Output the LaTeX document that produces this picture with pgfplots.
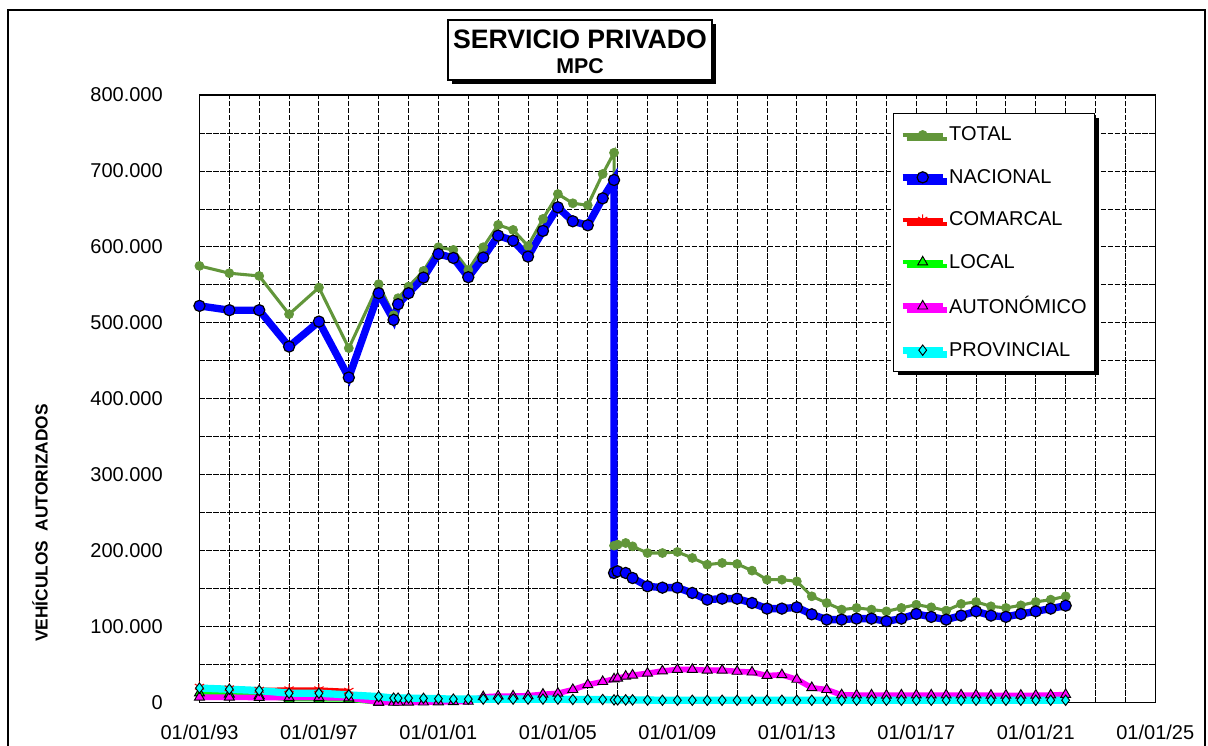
\documentclass[border=0pt]{standalone}
\usepackage{fontspec}
\setmainfont{Liberation Sans}
\usepackage{pgfplots}
\usepackage{pgfplotstable}
\pgfplotsset{compat=1.18}
\usetikzlibrary{shadows}
\definecolor{totalc}{RGB}{98,150,58}
\definecolor{pblue}{RGB}{0,0,255}
\definecolor{pred}{RGB}{255,0,0}
\definecolor{pgreen}{RGB}{0,255,0}
\definecolor{pmag}{RGB}{255,0,255}
\definecolor{pcyan}{RGB}{0,255,255}

\pgfplotstableread{
x y
1993 575000
1994 565400
1995 561800
1996 511400
1997 546500
1998 466700
1999 550900
1999.5 510000
1999.65 532500
2000 547800
2000.5 568400
2001 599600
2001.5 596100
2002 569700
2002.5 599600
2003 629000
2003.5 622400
2004 601300
2004.5 636900
2005 669700
2005.5 657500
2006 654900
2006.5 696100
2006.88 724100
2006.88 206600
2007 208000
2007.27 210100
2007.5 205700
2008 196900
2008.5 196900
2009 198300
2009.5 190400
2010 181600
2010.5 183800
2011 182500
2011.5 173700
2012 161800
2012.5 161800
2013 159600
2013.5 139900
2014 131100
2014.5 122400
2015 124600
2015.5 122400
2016 120100
2016.5 124600
2017 128900
2017.5 125400
2018 121100
2018.5 129900
2019 132500
2019.5 126700
2020 124600
2020.5 128000
2021 132500
2021.5 135500
2022 139900
}\total

\pgfplotstableread{
x y
1993 522400
1994 516700
1995 516700
1996 468800
1997 501700
1998 428000
1999 539100
1999.5 503900
1999.65 524600
2000 539100
2000.5 559600
2001 590800
2001.5 585500
2002 560100
2002.5 586000
2003 614900
2003.5 608300
2004 587300
2004.5 621100
2005 652200
2005.5 633800
2006 628500
2006.5 664000
2006.88 688200
2006.88 170600
2007 172800
2007.27 170600
2007.5 164000
2008 153100
2008.5 151300
2009 151300
2009.5 144300
2010 135500
2010.5 136800
2011 136800
2011.5 131100
2012 123700
2012.5 123700
2013 125400
2013.5 116200
2014 109200
2014.5 109200
2015 110500
2015.5 110500
2016 107000
2016.5 110500
2017 116700
2017.5 112800
2018 109200
2018.5 114500
2019 120100
2019.5 114500
2020 112800
2020.5 116700
2021 120100
2021.5 123700
2022 127600
}\nacional

\pgfplotstableread{
x y
1993 20800
1994 18700
1995 16800
1996 17400
1997 17400
1998 15500
}\comarcal

\pgfplotstableread{
x y
1993 12500
1994 11000
1995 9000
1996 4500
1997 4500
1998 4000
1999 0
}\local

\pgfplotstableread{
x y
1993 7000
1994 7000
1995 6500
1996 6500
1997 6500
1998 6000
1999 500
1999.5 200
1999.65 200
2000 300
2000.5 500
2001 800
2001.5 1000
2002 1500
2002.5 7500
2003 8500
2003.5 8500
2004 9000
2004.5 10800
2005 12100
2005.5 17000
2006 23500
2006.5 27500
2006.88 31000
2007 32000
2007.27 34500
2007.5 36000
2008 38500
2008.5 41500
2009 43500
2009.5 43500
2010 42500
2010.5 42500
2011 41000
2011.5 40000
2012 35500
2012.5 36500
2013 30500
2013.5 19500
2014 17000
2014.5 10000
2015 9800
2015.5 9800
2016 9500
2016.5 9800
2017 9800
2017.5 9800
2018 9800
2018.5 9800
2019 9800
2019.5 9500
2020 9500
2020.5 9500
2021 9500
2021.5 9800
2022 10500
}\autonomico

\pgfplotstableread{
x y
1993 19000
1994 17500
1995 15800
1996 12300
1997 12300
1998 10000
1999 7800
1999.5 5800
1999.65 5800
2000 5800
2000.5 5500
2001 5000
2001.5 4500
2002 4500
2002.5 4500
2003 4500
2003.5 4500
2004 4500
2004.5 4500
2005 4500
2005.5 4000
2006 4000
2006.5 4000
2006.88 3500
2007 3500
2007.27 3500
2007.5 3500
2008 3200
2008.5 3000
2009 3000
2009.5 3000
2010 3000
2010.5 3000
2011 3000
2011.5 3000
2012 3000
2012.5 3000
2013 3000
2013.5 3000
2014 3000
2014.5 3000
2015 3000
2015.5 3000
2016 3000
2016.5 3000
2017 3000
2017.5 3000
2018 3000
2018.5 3000
2019 3000
2019.5 3000
2020 3000
2020.5 3000
2021 3000
2021.5 3000
2022 3000
}\provincial

\begin{document}
\begin{tikzpicture}
% outer frame
\draw[line width=1.1pt] (-143.6pt,-60pt) rectangle (754.1pt,519.4pt);
\begin{axis}[
  at={(0pt,0pt)}, anchor=south west,
  scale only axis, width=716.85pt, height=455.6pt,
  xmin=1993, xmax=2025, ymin=0, ymax=800000,
  xtick={1993,1997,2001,2005,2009,2013,2017,2021,2025},
  xticklabels={01/01/93,01/01/97,01/01/01,01/01/05,01/01/09,01/01/13,01/01/17,01/01/21,01/01/25},
  minor x tick num=3,
  ytick={0,100000,200000,300000,400000,500000,600000,700000,800000},
  yticklabels={0,100.000,200.000,300.000,400.000,500.000,600.000,700.000,800.000},
  minor y tick num=1,
  scaled y ticks=false,
  grid=both,
  major grid style={black, line width=0.7pt, dash pattern=on 4pt off 1.2pt},
  minor grid style={black, line width=0.7pt, dash pattern=on 4pt off 1.2pt},
  tick style={draw=none},
  axis line style={black, line width=0.9pt},
  tick label style={font=\fontsize{15}{18}\selectfont},
  yticklabel style={xshift=-24pt},
  xticklabel style={yshift=-13pt},
  clip=false,
  legend cell align=left,
  legend image code/.code={\draw[mark repeat=2,mark phase=2,#1] plot coordinates {(0cm,0cm) (0.53cm,0cm) (1.06cm,0cm)};},
  legend style={at={(0.7256,0.9704)}, anchor=north west, draw=black, line width=0.9pt, fill=white,
    font=\fontsize{15}{18}\selectfont, row sep=15.8pt, inner xsep=4pt, inner ysep=8pt,
    drop shadow={shadow xshift=3pt,shadow yshift=-3pt,fill=black,opacity=1}},
]
\addplot[color=totalc, line width=2.3pt, mark=*, mark size=3.4pt, mark options={fill=totalc, draw=totalc, line width=0.5pt}] table {\total};
\addlegendentry{TOTAL}
\addplot[color=pblue, line width=5.5pt, mark=*, mark size=4.2pt, mark options={fill=pblue, draw=black, line width=0.9pt}] table {\nacional};
\addlegendentry{NACIONAL}
\addplot[color=pred, line width=3pt, mark=asterisk, mark size=4pt, mark options={pred, line width=0.8pt}] table {\comarcal};
\addlegendentry{COMARCAL}
\addplot[color=pgreen, line width=3.5pt, mark=triangle*, mark size=4.3pt, mark options={fill=pgreen, draw=black, line width=0.7pt}] table {\local};
\addlegendentry{LOCAL}
\addplot[color=pmag, line width=4.2pt, mark=triangle*, mark size=4.3pt, mark options={fill=pmag, draw=black, line width=0.7pt}] table {\autonomico};
\addlegendentry{AUTONÓMICO}
\addplot[color=pcyan, line width=5.5pt, mark=diamond*, mark size=3.9pt, mark options={fill=pcyan, draw=black, line width=0.7pt}] table {\provincial};
\addlegendentry{PROVINCIAL}
\end{axis}
% title box
\fill[black] (189.4pt,463.9pt) rectangle (387.4pt,508.9pt);
\draw[fill=white, line width=0.9pt] (186.4pt,466.9pt) rectangle (384.4pt,511.9pt);
\node at (285.4pt,497.4pt) {\fontsize{20}{22}\selectfont\bfseries SERVICIO PRIVADO};
\node at (285.4pt,477.4pt) {\fontsize{16}{18}\selectfont\bfseries MPC};
% y label
\node[rotate=90] at (-119.6pt,134.6pt) {\fontsize{13}{15}\selectfont\bfseries VEHÍCULOS\ \ AUTORIZADOS};
\pgfresetboundingbox
\path[use as bounding box] (-149.6pt,-32.6pt) rectangle (756.4pt,526.9pt);
\end{tikzpicture}
\end{document}
